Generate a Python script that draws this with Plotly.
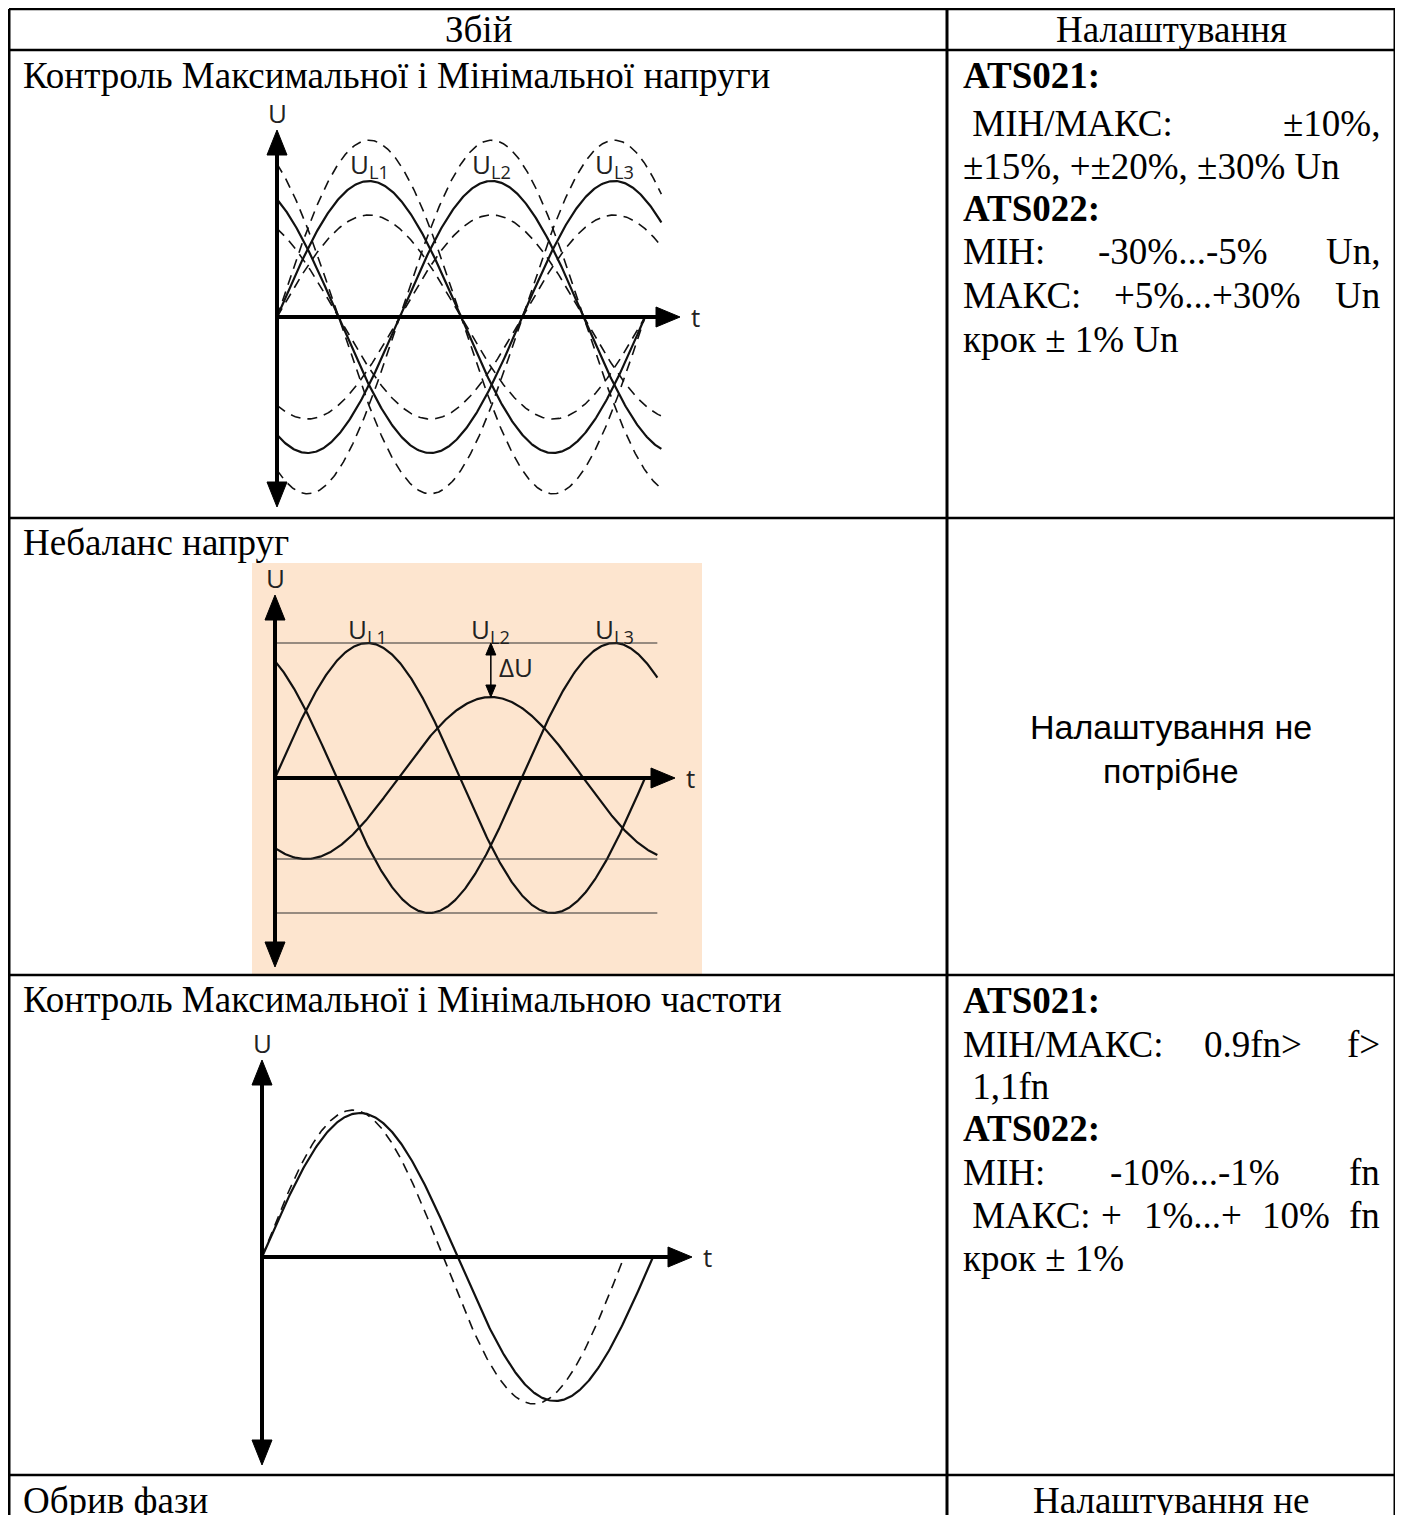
import numpy as np
import plotly.graph_objects as go

W, H = 1403, 1515
O = 8  # default page margin around the plot div
SERIF = "Liberation Serif"
SANS = "Open Sans"

# ---- table content ----
header = ["Збій", "Налаштування"]
faults = ["Контроль Максимальної і Мінімальної напруги", "Небаланс напруг",
          "Контроль Максимальної і Мінімальною частоти", "Обрив фази"]
settings_voltage = [["<b>ATS021:</b>"], ["\u00a0МІН/МАКС:", "±10%,"], ["±15%, +±20%, ±30% Un"],
                    ["<b>ATS022:</b>"], ["МІН:", "-30%...-5%", "Un,"], ["МАКС:", "+5%...+30%", "Un"],
                    ["крок ± 1% Un"]]
settings_freq = [["<b>ATS021:</b>"], ["МІН/МАКС:", "0.9fn>", "f>"], ["\u00a01,1fn"],
                 ["<b>ATS022:</b>"], ["МІН:", "-10%...-1%", "fn"],
                 ["\u00a0МАКС:", "+", "1%...+", "10%", "fn"], ["крок ± 1%"]]
no_setting = ["Налаштування не", "потрібне"]

# ---- diagram content ----
phase_labels = ["U<sub>L1</sub>", "U<sub>L2</sub>", "U<sub>L3</sub>"]
phase_shift = [0, -120, 120]          # degrees
label_deg = [90, 210, 330]
# voltage limits diagram
d1_amp = [1.0, 1.0, 1.0]
d1_amp_high = 1.3
d1_amp_low = 0.75
d1_end = [360, 376, 376]
# unbalance diagram
d2_amp = [1.0, 0.6, 1.0]
d2_end = [360, 372, 372]
d2_levels = [1.0, -0.6, -1.0]
# frequency diagram
d3_period = [1.0, 0.926]
d3_amp = [1.0, 1.02]
d3_dash = ["solid", "10px,7px"]

# ---- geometry (page pixels) ----
col_x = [9, 947, 1395]
row_y = [9, 50, 518, 975, 1475, 1560]
diagrams = {
    2: dict(ox=277, oy=317, dpx=368 / 360, upx=136, top=130, bot=507, right=680),
    3: dict(ox=275, oy=778, dpx=370 / 360, upx=135, top=595, bot=967, right=675),
    4: dict(ox=262, oy=1257, dpx=391 / 360, upx=144, top=1060, bot=1465, right=692),
}
FW, FH = W - O, H - O

fig = go.Figure()
shapes, annots = [], []
layout_axes = {}

layout_axes["xaxis"] = dict(domain=[0, 1], range=[O, W], visible=False, fixedrange=True)
layout_axes["yaxis"] = dict(domain=[0, 1], range=[H, O], visible=False, fixedrange=True)
fig.add_trace(go.Scatter(x=[O], y=[O], mode="markers", marker=dict(opacity=0), showlegend=False,
                         hoverinfo="skip"))

for n, d in diagrams.items():
    L, R = d["ox"] - 8, d["right"] + 8
    T, B = d["top"], d["bot"]
    layout_axes[f"xaxis{n}"] = dict(domain=[(L - O) / FW, (R - O) / FW], anchor=f"y{n}",
                                    visible=False,
                                    range=[(L - d["ox"]) / d["dpx"], (R - d["ox"]) / d["dpx"]])
    layout_axes[f"yaxis{n}"] = dict(domain=[1 - (B - O) / FH, 1 - (T - O) / FH], anchor=f"x{n}",
                                    visible=False,
                                    range=[(d["oy"] - B) / d["upx"], (d["oy"] - T) / d["upx"]])


def wave(n, amp, shift, end, dash, width, period=1.0):
    th = np.linspace(0, end, 400)
    y = amp * np.sin(np.radians(th / period + shift))
    fig.add_trace(go.Scatter(x=th, y=y, xaxis=f"x{n}", yaxis=f"y{n}", mode="lines",
                             line=dict(color="#111", width=width, dash=dash),
                             showlegend=False, hoverinfo="skip"))


# diagram 1
for a, s, e in zip(d1_amp, phase_shift, d1_end):
    wave(2, a * d1_amp_high, s, e, "10px,7px", 1.6)
    wave(2, a * d1_amp_low, s, e, "10px,7px", 1.6)
for a, s, e in zip(d1_amp, phase_shift, d1_end):
    wave(2, a, s, e, "solid", 2.2)

# diagram 2
shapes.append(dict(type="rect", xref="x", yref="y", x0=252, x1=702, y0=563, y1=975,
                   fillcolor="#fde5cf", line_width=0, layer="below"))
for lv in d2_levels:
    shapes.append(dict(type="line", xref="x3", yref="y3", x0=0, x1=372, y0=lv, y1=lv,
                       line=dict(color="#333", width=1.2)))
for a, s, e in zip(d2_amp, phase_shift, d2_end):
    wave(3, a, s, e, "solid", 2.2)

# diagram 3
for p, a, ds in zip(d3_period, d3_amp, d3_dash):
    wave(4, a, 0, 360 * p, ds, 2.2 if ds == "solid" else 1.6, period=p)


# axes arrows
for n, d in diagrams.items():
    ox, oy = d["ox"], d["oy"]
    shapes.append(dict(type="line", xref="x", yref="y", x0=ox, x1=ox, y0=d["top"] + 20,
                       y1=d["bot"] - 20, line=dict(color="black", width=4)))
    shapes.append(dict(type="line", xref="x", yref="y", x0=ox, x1=d["right"] - 20, y0=oy,
                       y1=oy, line=dict(color="black", width=4)))
    tp, bt, rt = d["top"], d["bot"], d["right"]
    for path in [f"M {ox-10},{tp+25} L {ox},{tp} L {ox+10},{tp+25} Z",
                 f"M {ox-10},{bt-25} L {ox},{bt} L {ox+10},{bt-25} Z",
                 f"M {rt-24},{oy-10} L {rt},{oy} L {rt-24},{oy+10} Z"]:
        shapes.append(dict(type="path", xref="x", yref="y", path=path, fillcolor="black",
                           line=dict(color="black", width=1)))
    annots.append(dict(x=ox, y=tp - 17, text="U", xref="x", yref="y", showarrow=False,
                       font=dict(family=SANS, size=26, color="#222"), xanchor="center",
                       yanchor="middle"))
    annots.append(dict(x=rt + 9, y=oy, text="t", xref="x", yref="y", showarrow=False,
                       font=dict(family=SANS, size=26, color="#222"), xanchor="left",
                       yanchor="middle"))

# phase labels
for n, ylab in [(2, 1.12), (3, 1.10)]:
    for lab, deg in zip(phase_labels, label_deg):
        annots.append(dict(x=deg, y=ylab, xref=f"x{n}", yref=f"y{n}", text=lab,
                           showarrow=False, font=dict(family=SANS, size=26, color="#222"),
                           xanchor="center", yanchor="middle"))

# delta U arrow
d = diagrams[3]
xu = d["ox"] + 210 * d["dpx"]
yt, yb = d["oy"] - d2_amp[0] * d["upx"], d["oy"] - d2_amp[1] * d["upx"]
shapes.append(dict(type="line", xref="x", yref="y", x0=xu, x1=xu, y0=yt + 6, y1=yb - 6,
                   line=dict(color="black", width=1.5)))
for path in [f"M {xu-5},{yt+12} L {xu},{yt} L {xu+5},{yt+12} Z",
             f"M {xu-5},{yb-12} L {xu},{yb} L {xu+5},{yb-12} Z"]:
    shapes.append(dict(type="path", xref="x", yref="y", path=path, fillcolor="black",
                       line=dict(color="black", width=1)))
annots.append(dict(x=xu + 6, y=(yt + yb) / 2 - 3, xref="x", yref="y", text="ΔU", showarrow=False,
                   font=dict(family=SANS, size=26, color="#222"), xanchor="left", yanchor="middle"))

# table grid
for x in col_x:
    shapes.append(dict(type="line", xref="x", yref="y", x0=x, x1=x, y0=row_y[0], y1=H + 10,
                       line=dict(color="black", width=3)))
for y in row_y[:-1]:
    shapes.append(dict(type="line", xref="x", yref="y", x0=col_x[0], x1=col_x[-1], y0=y, y1=y,
                       line=dict(color="black", width=2.5)))


def text(s, x, y, anchor="left", size=37, family=SERIF):
    annots.append(dict(x=x, y=y, xref="x", yref="y", text=s, showarrow=False,
                       xanchor=anchor, yanchor="middle",
                       font=dict(family=family, size=size, color="black")))


text(header[0], (col_x[0] + col_x[1]) / 2, 29, "center")
text(header[1], (col_x[1] + col_x[2]) / 2, 29, "center")
for f, y in zip(faults, [75, 542, 999, 1500]):
    text(f, 21, y)

LEFT, RIGHT = 961, 1382
rows_voltage = [75, 123, 166, 208, 251, 295, 339]
rows_freq = [1000, 1044, 1086, 1128, 1172, 1215, 1258]
mid_voltage = {4: [1183], 5: [1207]}
mid_freq = {1: [1253], 4: [1195], 5: [1111, 1193, 1296]}


def settings(lines, ys, mids):
    for i, (segs, y) in enumerate(zip(lines, ys)):
        text(segs[0], LEFT, y)
        if len(segs) > 1:
            text(segs[-1], RIGHT, y, "right")
        for s, xm in zip(segs[1:-1], mids.get(i, [])):
            text(s, xm, y, "center")


settings(settings_voltage, rows_voltage, mid_voltage)
settings(settings_freq, rows_freq, mid_freq)

cx = (col_x[1] + col_x[2]) / 2
text(no_setting[0], cx, 727, "center", 34, "Liberation Sans")
text(no_setting[1], cx, 771, "center", 34, "Liberation Sans")
text(no_setting[0], cx, 1500, "center")

fig.update_layout(width=FW, height=FH, margin=dict(l=0, r=0, t=0, b=0),
                  paper_bgcolor="white", plot_bgcolor="rgba(0,0,0,0)",
                  shapes=shapes, annotations=annots, showlegend=False, **layout_axes)
fig.write_html("out.html")
